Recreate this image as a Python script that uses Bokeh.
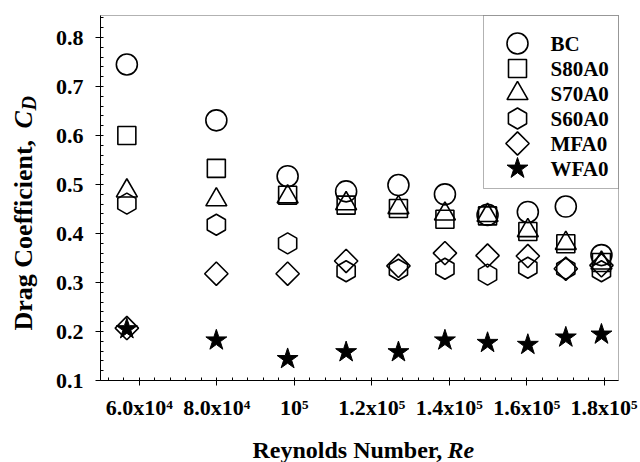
import numpy as np
from bokeh.plotting import figure
from bokeh.models import Range1d, FixedTicker, Label, LinearAxis, BoxAnnotation
from bokeh.embed import file_html
from bokeh.resources import INLINE

# ---- data ----
re_vals = [56800, 79900, 98300, 113400, 126900, 138900, 149900, 160300, 170100, 179300]
bc     = [0.745, 0.631, 0.517, 0.486, 0.499, 0.480, 0.438, 0.444, 0.455, 0.356]
s80a0  = [0.600, 0.533, 0.478, 0.458, 0.451, 0.429, 0.436, 0.404, 0.379, 0.341]
s70a0  = [0.487, 0.469, 0.475, 0.461, 0.453, 0.440, 0.437, 0.406, 0.380, 0.340]
s60a0  = [0.461, 0.418, 0.380, 0.323, 0.326, 0.328, 0.316, 0.330, 0.328, 0.323]
mfa0   = [0.207, 0.318, 0.318, 0.344, 0.334, 0.360, 0.355, 0.354, 0.328, 0.335]
wfa0   = [0.205, 0.182, 0.144, 0.158, 0.158, 0.182, 0.177, 0.173, 0.188, 0.194]
series_names = ["BC", "S80A0", "S70A0", "S60A0", "MFA0", "WFA0"]
series_vals = [bc, s80a0, s70a0, s60a0, mfa0, wfa0]

x_ticks = [60000, 80000, 100000, 120000, 140000, 160000, 180000]
x_tick_labels = ["6.0x10\u2074", "8.0x10\u2074", "10\u2075", "1.2x10\u2075",
                 "1.4x10\u2075", "1.6x10\u2075", "1.8x10\u2075"]
y_ticks = [0.1, 0.2, 0.3, 0.4, 0.5, 0.6, 0.7, 0.8]
X0, X1 = 50000, 183700      # data extent of the plotting box
Y0, Y1 = 0.1, 0.845

# ---- layout (pixels) ----
W, H = 640, 462
PX_L, PX_R, PY_T, PY_B = 100, 618, 15, 380
kx = (X1 - X0) / (PX_R - PX_L)
ky = (Y1 - Y0) / (PY_B - PY_T)
x_start, x_end = X0 - PX_L * kx, X1 + (W - PX_R) * kx
y_start, y_end = Y0 - (H - PY_B) * ky, Y1 + PY_T * ky

def dx(px):
    return x_start + px * kx

def dy(py):
    return y_end - py * ky

FONT = "Liberation Serif"

p = figure(width=W, height=H, output_backend="svg", toolbar_location=None,
           x_range=Range1d(x_start, x_end), y_range=Range1d(y_start, y_end),
           x_axis_location=None, y_axis_location=None,
           min_border_left=0, min_border_right=0, min_border_top=0, min_border_bottom=0)
p.xgrid.visible = False
p.ygrid.visible = False
p.outline_line_color = None
p.background_fill_color = "white"
p.border_fill_color = "white"

xax = LinearAxis(fixed_location=Y0, bounds=(X0, X1),
                 ticker=FixedTicker(ticks=x_ticks, minor_ticks=list(np.arange(52000, 184000, 4000))))
yax = LinearAxis(fixed_location=X0, bounds=(Y0, Y1),
                 ticker=FixedTicker(ticks=y_ticks, minor_ticks=list(np.round(np.arange(0.1, 0.85, 0.02), 3))))
xax.major_label_overrides = {t: l for t, l in zip(x_ticks, x_tick_labels)}
yax.major_label_overrides = {t: f"{t:.1f}" for t in y_ticks}
for ax in (xax, yax):
    ax.axis_line_color = "black"
    ax.axis_line_width = 1
    ax.major_tick_in = 0
    ax.major_tick_out = 5
    ax.minor_tick_in = 3
    ax.minor_tick_out = 0
    ax.major_tick_line_color = "black"
    ax.minor_tick_line_color = "black"
    ax.major_label_text_font = FONT
    ax.major_label_text_font_style = "bold"
    ax.major_label_text_font_size = "22px"
    ax.major_label_text_color = "black"
yax.major_label_standoff = 12
xax.major_label_standoff = 9
p.add_layout(xax, "below")
p.add_layout(yax, "left")

# box around plotting area (top / right edges)
p.add_layout(BoxAnnotation(left=X0, right=X1, bottom=Y0, top=Y1, fill_color=None,
                           line_color="black", line_width=1, level="underlay"))

styles = [
    dict(marker="circle", size=21, angle=0.0, fill_color=None, line_width=1.6),
    dict(marker="square", size=18, angle=0.0, fill_color=None, line_width=1.6),
    dict(marker="triangle", size=21, angle=0.0, fill_color=None, line_width=1.6),
    dict(marker="hex", size=21, angle=np.pi / 2, fill_color=None, line_width=1.6),
    dict(marker="square", size=16.5, angle=np.pi / 4, fill_color=None, line_width=1.6),
    dict(marker="star", size=22, angle=0.0, fill_color="black", line_width=1),
]

# legend box
LG_L, LG_R, LG_T, LG_B = 483, 618, 15, 188
p.add_layout(BoxAnnotation(left=LG_L, right=LG_R, top=H - LG_T, bottom=H - LG_B,
                           left_units="screen", right_units="screen",
                           top_units="screen", bottom_units="screen",
                           fill_color="white", fill_alpha=1, line_color="black",
                           line_width=1, level="underlay"))
LG_MX, LG_TX, LG_ROW0, LG_PITCH = 517, 550, 43, 25

for i, (name, vals, st) in enumerate(zip(series_names, series_vals, styles)):
    p.scatter(re_vals, vals, line_color="black", **st)
    row_py = LG_ROW0 + i * LG_PITCH
    p.scatter([dx(LG_MX)], [dy(row_py)], line_color="black", **st)
    p.add_layout(Label(x=LG_TX, y=H - row_py, x_units="screen", y_units="screen",
                       text=name, text_font=FONT, text_font_style="bold",
                       text_color="black", text_font_size="21px",
                       text_align="left", text_baseline="middle"))

# axis titles built from labels (mixed bold / italic)
XL_Y = H - 449
p.add_layout(Label(x=252, y=XL_Y, x_units="screen", y_units="screen",
                   text="Reynolds Number,", text_font=FONT, text_font_style="bold",
                   text_color="black", text_font_size="24px",
                   text_align="left", text_baseline="alphabetic"))
p.add_layout(Label(x=447, y=XL_Y, x_units="screen", y_units="screen",
                   text="Re", text_font=FONT, text_font_style="bold italic",
                   text_color="black", text_font_size="24px",
                   text_align="left", text_baseline="alphabetic"))

YL_X = 23
p.add_layout(Label(x=YL_X, y=H - 330, x_units="screen", y_units="screen", angle=np.pi / 2,
                   text="Drag Coefficient,", text_font=FONT, text_font_style="bold",
                   text_color="black", text_font_size="26px",
                   text_align="left", text_baseline="alphabetic"))
p.add_layout(Label(x=YL_X, y=H - 128, x_units="screen", y_units="screen", angle=np.pi / 2,
                   text="C", text_font=FONT, text_font_style="bold italic",
                   text_color="black", text_font_size="26px",
                   text_align="left", text_baseline="alphabetic"))
p.add_layout(Label(x=YL_X + 5, y=H - 110, x_units="screen", y_units="screen", angle=np.pi / 2,
                   text="D", text_font=FONT, text_font_style="bold italic",
                   text_color="black", text_font_size="20px",
                   text_align="left", text_baseline="alphabetic"))

open("out.html", "w").write(file_html(p, INLINE))
